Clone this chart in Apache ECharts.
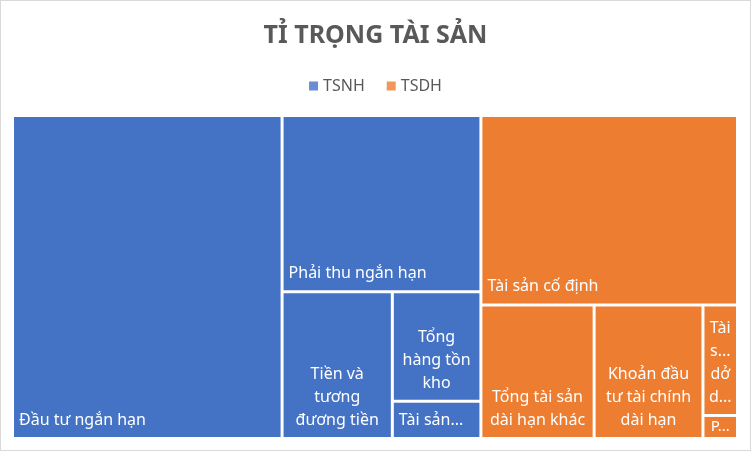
<!DOCTYPE html>
<html>
<head>
<meta charset="utf-8">
<script src="https://cdn.jsdelivr.net/npm/echarts@6/dist/echarts.min.js"></script>
<style>
html, body { margin: 0; padding: 0; background: #fff; }
#chart { width: 751px; height: 451px; outline: 1px solid #d9d9d9; outline-offset: -1px; }
</style>
</head>
<body>
<div id="chart"></div>
<script>
// nhóm tài sản
var groupNames = ['TSNH', 'TSDH'];
var groupColors = ['#4472C4', '#ED7D31'];

// tài sản ngắn hạn (% tổng tài sản)
var tsnhNames = ['Đầu tư ngắn hạn', 'Phải thu ngắn hạn', 'Tiền và tương đương tiền', 'Tổng hàng tồn kho', 'Tài sản ngắn hạn khác'];
var tsnhValues = [37.19, 14.97, 6.91, 4.14, 1.41];

// tài sản dài hạn (% tổng tài sản)
var tsdhNames = ['Tài sản cố định', 'Tổng tài sản dài hạn khác', 'Khoản đầu tư tài chính dài hạn', 'Tài sản dở dang dài hạn', 'Phải thu dài hạn'];
var tsdhValues = [20.76, 6.46, 6.21, 1.63, 0.34];

// nhãn xuống dòng / rút gọn giống Excel
var wrappedLabels = {
    'Tiền và tương đương tiền': 'Tiền và\ntương\nđương tiền',
    'Tổng hàng tồn kho': 'Tổng\nhàng tồn\nkho',
    'Tổng tài sản dài hạn khác': 'Tổng tài sản\ndài hạn khác',
    'Khoản đầu tư tài chính dài hạn': 'Khoản đầu\ntư tài chính\ndài hạn',
    'Tài sản dở dang dài hạn': 'Tài\ns...\ndở\nd...',
    'Phải thu dài hạn': 'P...'
};
// ô quá thấp: dòng chữ hẹp hơn để nhãn vẫn hiện
var tightLabels = ['Phải thu dài hạn'];

var FONT = '"Noto Sans", "DejaVu Sans", sans-serif';

function buildChildren(names, values) {
    return names.map(function (name, i) {
        var item = { name: name, value: values[i] };
        if (wrappedLabels[name]) {
            item.label = { position: 'insideBottom', align: 'center', overflow: 'none' };
        }
        if (tightLabels.indexOf(name) >= 0) {
            item.label = {
                position: 'inside', align: 'center', verticalAlign: 'middle',
                overflow: 'none', lineHeight: 16, fontSize: 15, distance: 0, padding: 0
            };
        }
        return item;
    });
}

var treeData = [
    { name: groupNames[0], itemStyle: { color: groupColors[0] }, children: buildChildren(tsnhNames, tsnhValues) },
    { name: groupNames[1], itemStyle: { color: groupColors[1] }, children: buildChildren(tsdhNames, tsdhValues) }
];

var chart = echarts.init(document.getElementById('chart'));

var option = {
    animation: false,
    title: {
        text: 'TỈ TRỌNG TÀI SẢN',
        left: 'center',
        top: 18,
        textStyle: { fontSize: 25, fontWeight: 'bold', color: '#595959', fontFamily: FONT }
    },
    legend: {
        data: groupNames,
        top: 73,
        left: 'center',
        icon: 'rect',
        itemWidth: 9,
        itemHeight: 9,
        itemGap: 22,
        selectedMode: false,
        textStyle: { fontSize: 16, color: '#595959', fontFamily: FONT }
    },
    // trục ẩn chỉ để hiện chú thích
    grid: { show: false, left: 0, top: 0, width: 1, height: 1 },
    xAxis: { show: false },
    yAxis: { show: false },
    series: [
        {
            type: 'treemap',
            left: 14,
            top: 117,
            right: 15,
            bottom: 14,
            roam: false,
            nodeClick: false,
            breadcrumb: { show: false },
            squareRatio: 1,
            visibleMin: 0,
            label: {
                show: true,
                position: 'insideBottomLeft',
                distance: 0,
                color: '#fff',
                fontSize: 16,
                lineHeight: 23,
                fontFamily: FONT,
                overflow: 'truncate',
                ellipsis: '...',
                formatter: function (p) {
                    return wrappedLabels[p.name] || p.name;
                }
            },
            upperLabel: { show: false },
            itemStyle: { borderColor: '#fff', borderWidth: 0, gapWidth: 3 },
            levels: [
                { itemStyle: { borderWidth: 0, gapWidth: 3 } },
                { itemStyle: { borderWidth: 0, gapWidth: 3 } },
                { itemStyle: { borderWidth: 0, gapWidth: 3 } }
            ],
            emphasis: { disabled: true },
            data: treeData
        },
        { name: groupNames[0], type: 'scatter', data: [], itemStyle: { color: groupColors[0] } },
        { name: groupNames[1], type: 'scatter', data: [], itemStyle: { color: groupColors[1] } }
    ]
};

chart.setOption(option);
</script>
</body>
</html>
